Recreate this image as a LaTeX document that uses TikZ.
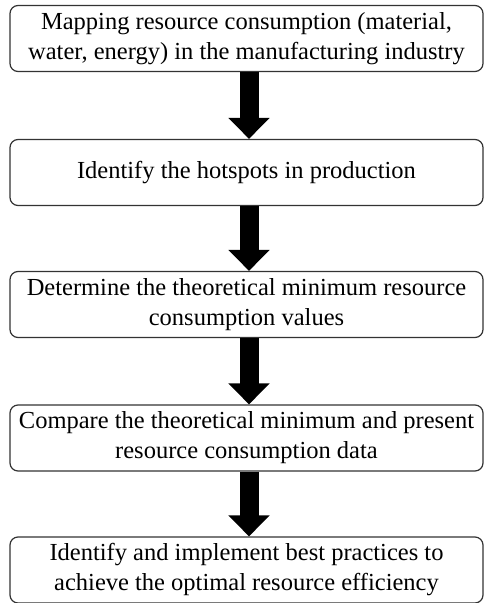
\documentclass[tikz,border=0pt]{standalone}
\usepackage{fontspec}
\setmainfont{Liberation Serif}
\usetikzlibrary{arrows.meta}
\begin{document}
\begin{tikzpicture}[x=1pt,y=-1pt,
  stepbox/.style={draw=black!80, line width=1.2pt, rounded corners=8pt,
    minimum width=473pt, minimum height=66pt, align=center, inner sep=0pt,
    font=\fontsize{24.5}{30}\selectfont},
  bigarrow/.style={line width=19pt, -{Triangle[width=40pt,length=21pt]}}]
\useasboundingbox (0,0) rectangle (484,603);
\node[stepbox] (b1) at (246.5,38.5) {Mapping resource consumption (material,\\water, energy) in the manufacturing industry};
\node[stepbox] (b2) at (246.5,172.5) {Identify the hotspots in production};
\node[stepbox] (b3) at (246.5,304.5) {Determine the theoretical minimum resource\\consumption values};
\node[stepbox] (b4) at (246.5,438) {Compare the theoretical minimum and present\\resource consumption data};
\node[stepbox] (b5) at (246.5,570) {Identify and implement best practices to\\achieve the optimal resource efficiency};
\foreach \a/\b in {b1/b2,b2/b3,b3/b4,b4/b5}
  \draw[bigarrow] ([xshift=2.5pt]\a.south) -- ([xshift=2.5pt]\b.north);
\end{tikzpicture}
\end{document}
